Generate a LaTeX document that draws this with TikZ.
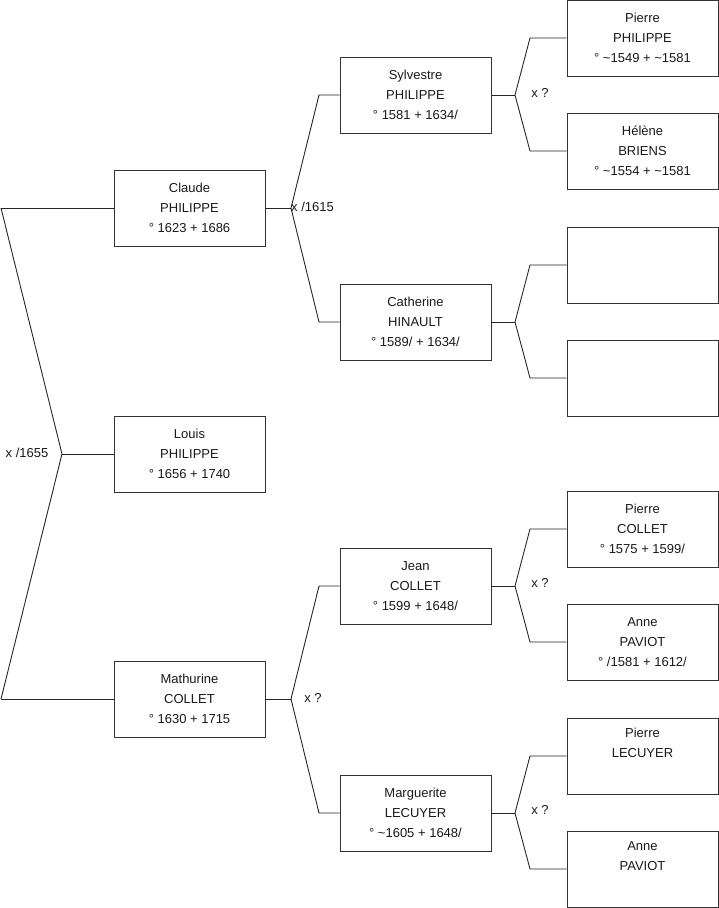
\documentclass[tikz,border=0pt]{standalone}
\usepackage{fontspec}
\setmainfont{Liberation Sans}
\newcommand{\tl}{\textasciitilde}
\begin{document}
\begin{tikzpicture}[x=1pt,y=-1pt,
  person/.style={draw=black!80,line width=0.9pt,minimum width=151pt,minimum height=76pt,
    align=center,inner sep=0pt,font=\fontsize{13}{20}\selectfont,text=black!90},
  link/.style={draw=black!85,line width=0.9pt},
  lbl/.style={font=\fontsize{13}{15}\selectfont,inner sep=0pt,text=black!90}]
\useasboundingbox (0,0) rectangle (719,908);
% generation 1
\node[person] (claude) at (189.5,208) {Claude\\PHILIPPE\\° 1623 + 1686};
\node[person] (louis) at (189.5,454) {Louis\\PHILIPPE\\° 1656 + 1740};
\node[person] (mathurine) at (189.5,699) {Mathurine\\COLLET\\° 1630 + 1715};
% generation 2
\node[person] (sylvestre) at (415.5,95) {Sylvestre\\PHILIPPE\\° 1581 + 1634/};
\node[person] (catherine) at (415.5,322) {Catherine\\HINAULT\\° 1589/ + 1634/};
\node[person] (jean) at (415.5,586) {Jean\\COLLET\\° 1599 + 1648/};
\node[person] (marguerite) at (415.5,813) {Marguerite\\LECUYER\\° \tl1605 + 1648/};
% generation 3
\node[person] (pierreP) at (642.5,38) {Pierre\\PHILIPPE\\° \tl1549 + \tl1581};
\node[person] (helene) at (642.5,151) {Hélène\\BRIENS\\° \tl1554 + \tl1581};
\node[person] (empty1) at (642.5,265) {};
\node[person] (empty2) at (642.5,378) {};
\node[person] (pierreC) at (642.5,529) {Pierre\\COLLET\\° 1575 + 1599/};
\node[person] (anneP1) at (642.5,642) {Anne\\PAVIOT\\° /1581 + 1612/};
\node[person] (pierreL) at (642.5,756) {Pierre\\LECUYER\\\strut};
\node[person] (anneP2) at (642.5,869) {Anne\\PAVIOT\\\strut};
% fork coordinates
\coordinate (v0) at (62,454);
\coordinate (v0a) at (1,208);
\coordinate (v0b) at (1,699);
\coordinate (v1) at (291,208);
\coordinate (v1a) at (319,95);
\coordinate (v1b) at (319,322);
\coordinate (v2) at (291,699);
\coordinate (v2a) at (319,586);
\coordinate (v2b) at (319,813);
\coordinate (v3) at (515,95);
\coordinate (v3a) at (530,38);
\coordinate (v3b) at (530,151);
\coordinate (v4) at (515,322);
\coordinate (v4a) at (530,265);
\coordinate (v4b) at (530,378);
\coordinate (v5) at (515,586);
\coordinate (v5a) at (530,529);
\coordinate (v5b) at (530,642);
\coordinate (v6) at (515,813);
\coordinate (v6a) at (530,756);
\coordinate (v6b) at (530,869);
% connectors
\draw[link] (louis.west) -- (v0);
\draw[link] (v0a) -- (v0) -- (v0b);
\draw[link] (v0a) -- (claude.west);
\draw[link] (v0b) -- (mathurine.west);
\draw[link] (claude.east) -- (v1);
\draw[link] (sylvestre.west) -- (v1a) -- (v1) -- (v1b) -- (catherine.west);
\draw[link] (mathurine.east) -- (v2);
\draw[link] (jean.west) -- (v2a) -- (v2) -- (v2b) -- (marguerite.west);
\draw[link] (sylvestre.east) -- (v3);
\draw[link] (pierreP.west) -- (v3a) -- (v3) -- (v3b) -- (helene.west);
\draw[link] (catherine.east) -- (v4);
\draw[link] (empty1.west) -- (v4a) -- (v4) -- (v4b) -- (empty2.west);
\draw[link] (jean.east) -- (v5);
\draw[link] (pierreC.west) -- (v5a) -- (v5) -- (v5b) -- (anneP1.west);
\draw[link] (marguerite.east) -- (v6);
\draw[link] (pierreL.west) -- (v6a) -- (v6) -- (v6b) -- (anneP2.west);
% marriage labels
\node[lbl] (m0) at (27,453) {x /1655};
\node[lbl,anchor=west] (m1) at (291,207) {x /1615};
\node[lbl] (m2) at (313,698) {x ?};
\node[lbl] (m3) at (540,93) {x ?};
\node[lbl] (m5) at (540,583) {x ?};
\node[lbl] (m6) at (540,810) {x ?};
\end{tikzpicture}
\end{document}
